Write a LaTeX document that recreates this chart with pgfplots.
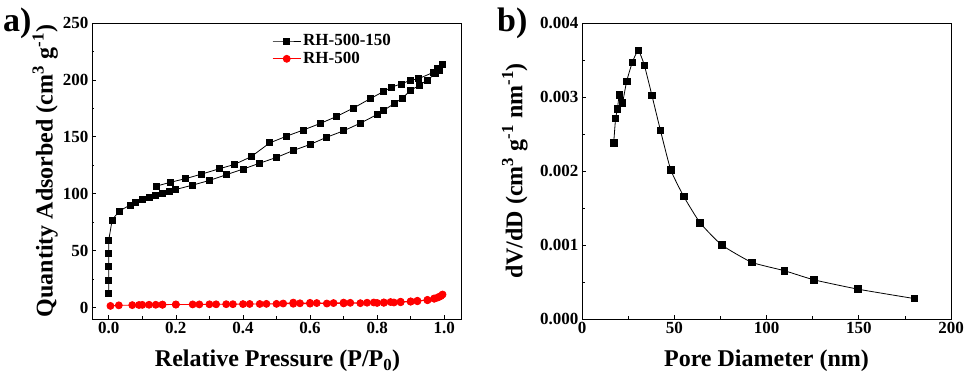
\documentclass[border=0pt]{standalone}
\usepackage{fontspec}
\setmainfont{Liberation Serif}
\usepackage{pgfplots}
\pgfplotsset{compat=1.18}
\begin{document}
\begin{tikzpicture}
\useasboundingbox (-92pt,-58pt) rectangle (875pt,319pt);
\pgfplotsset{
  myaxis/.style={
    width=369pt, height=296pt, scale only axis,
    axis line style={line width=0.8pt},
    tick pos=left, tick align=inside,
    major tick length=4pt, minor tick length=2.5pt,
    every tick/.style={line width=0.7pt, black},
    minor tick num=1,
    /pgf/number format/assume math mode=true,
    ticklabel style={font=\fontsize{17}{17}\selectfont\bfseries},
    label style={font=\fontsize{24}{26}\selectfont\bfseries},
  }
}
\begin{axis}[myaxis, at={(0pt,0pt)}, anchor=south west,
  xmin=-0.05, xmax=1.05, ymin=-10, ymax=250,
  xtick={0,0.2,0.4,0.6,0.8,1.0}, ytick={0,50,100,150,200,250},
  xticklabel style={/pgf/number format/.cd, fixed, fixed zerofill, precision=1},
  xlabel={Relative Pressure (P/P\textsubscript{0})},
  ylabel={Quantity Adsorbed (cm\textsuperscript{3} g\textsuperscript{-1})},
  xlabel style={at={(axis description cs:0.503,-0.162)}, anchor=base},
  ylabel style={at={(axis description cs:-0.127,0.5)}, anchor=center},
  legend style={at={(rel axis cs:0.48,0.975)}, anchor=north west, draw=none, fill=none,
    font=\fontsize{17}{21}\selectfont\bfseries, row sep=1pt},
  legend cell align=left,
  legend image code/.code={\draw[mark repeat=2, mark phase=2] plot coordinates {(0pt,0pt)(14pt,0pt)(28pt,0pt)};},
]
\addplot[black, line width=0.8pt, mark=square*, mark size=3pt] coordinates {
(0,12.6)(0,24.3)(0,36)(0,47.7)(0,59.4)(0.01,76.9)(0.031,84.8)(0.063,90)(0.078,92.7)
(0.10,95)(0.12,96.8)(0.14,98.2)(0.16,100)(0.18,101.8)(0.20,103.8)(0.25,107.6)(0.30,111.7)
(0.35,116.7)(0.40,121.6)(0.45,126.9)(0.50,131.9)(0.55,138)(0.60,143.3)(0.65,149.7)
(0.70,155.3)(0.75,162)(0.80,169.6)(0.82,173.4)(0.85,179)(0.876,184.2)(0.90,190.9)
(0.926,195.3)(0.95,200)(0.974,205.6)(0.986,208.5)(0.996,213.5)
(0.98,210.5)(0.968,206.7)(0.923,201)(0.90,199.7)(0.871,196.5)(0.843,193.6)(0.82,190)
(0.78,183.6)(0.73,175.4)(0.68,168)(0.63,161.7)(0.58,156)(0.53,150.6)(0.48,144.7)
(0.424,132.5)(0.374,125.7)(0.33,122)(0.277,117.3)(0.228,113.2)(0.185,110.2)(0.142,106.7)
};
\addlegendentry{RH-500-150}
\addplot[red, line width=0.8pt, mark=*, mark size=3.5pt, mark options={fill=red}] coordinates {
(0.005,1.5)(0.03,2.0)(0.07,2.2)(0.09,2.3)(0.10,2.4)(0.12,2.5)(0.14,2.5)(0.16,2.6)(0.20,2.7)
(0.25,2.8)(0.30,2.9)(0.35,3.0)(0.40,3.1)(0.45,3.2)(0.50,3.3)(0.55,3.4)(0.60,3.5)(0.65,3.6)
(0.70,3.7)(0.75,3.9)(0.80,4.1)(0.82,4.2)(0.85,4.5)(0.87,4.7)(0.90,5.2)(0.92,5.6)(0.95,6.5)
(0.97,7.8)(0.98,8.8)(0.99,10.2)(0.995,11.5)
(0.985,9.5)(0.97,8.0)(0.95,6.8)(0.92,6.0)(0.90,5.5)(0.87,5.2)(0.84,4.9)(0.82,4.6)(0.79,4.5)
(0.77,4.3)(0.72,4.2)(0.70,4.4)(0.67,4.0)(0.62,4.0)(0.60,4.2)(0.57,3.8)(0.55,4.4)(0.52,3.6)
(0.47,3.3)(0.42,3.2)(0.37,3.0)(0.32,2.9)(0.27,2.8)(0.20,2.7)(0.16,2.6)
};
\addlegendentry{RH-500}
\end{axis}
\node[anchor=base west, inner sep=0pt, font=\fontsize{34}{34}\selectfont\bfseries] at (-89pt,287pt) {a)};
\begin{axis}[myaxis, at={(490pt,0pt)}, anchor=south west,
  xmin=0, xmax=200, ymin=0, ymax=0.004,
  xtick={0,50,100,150,200}, ytick={0,0.001,0.002,0.003,0.004},
  scaled y ticks=false,
  yticklabel style={/pgf/number format/.cd, fixed, fixed zerofill, precision=3},
  xlabel={Pore Diameter (nm)},
  ylabel={dV/dD (cm\textsuperscript{3} g\textsuperscript{-1} nm\textsuperscript{-1})},
  xlabel style={at={(axis description cs:0.5,-0.162)}, anchor=base},
  ylabel style={at={(axis description cs:-0.182,0.5)}, anchor=center},
]
\addplot[black, line width=0.8pt, mark=square*, mark size=3.3pt, smooth, tension=0.3] coordinates {
(17.2,0.002383)(18.2,0.002709)(19.2,0.002836)(20.2,0.003031)(21.9,0.002922)(24.2,0.003212)
(27.3,0.003470)(30.5,0.003628)(33.8,0.003429)(37.9,0.003021)(42.5,0.002550)(48.1,0.002016)
(55.1,0.001658)(64.0,0.001300)(75.7,0.001001)(92.0,0.000766)(109.8,0.000652)(125.6,0.000530)
(149.6,0.000403)(180.1,0.000276)
};
\end{axis}
\node[anchor=base west, inner sep=0pt, font=\fontsize{34}{34}\selectfont\bfseries] at (405pt,287pt) {b)};
\end{tikzpicture}
\end{document}
